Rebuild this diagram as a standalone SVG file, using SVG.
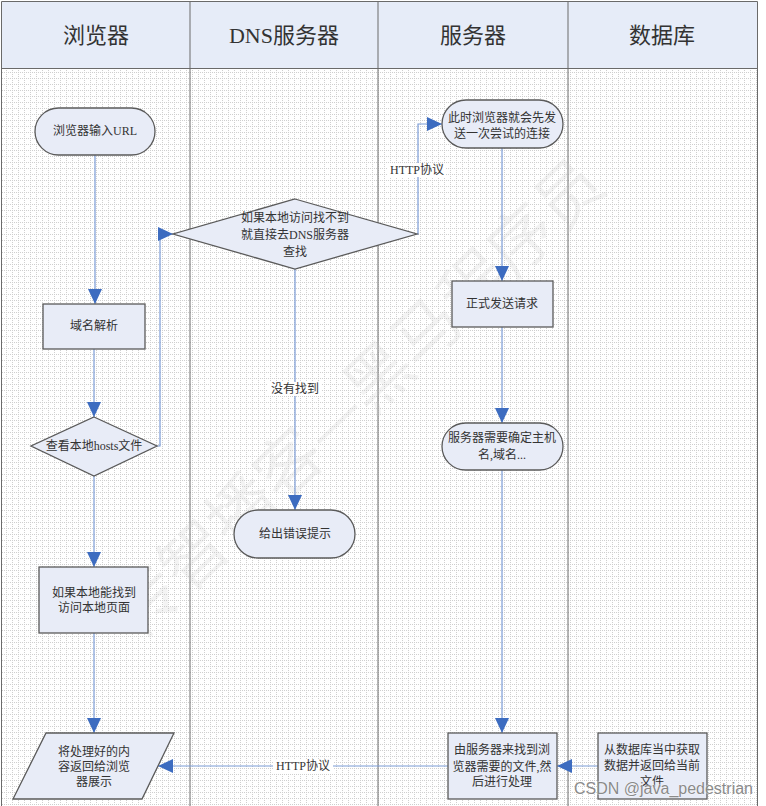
<svg xmlns="http://www.w3.org/2000/svg" width="766" height="806" viewBox="0 0 766 806">
<defs>
<pattern id="grid" width="6" height="6" patternUnits="userSpaceOnUse">
<path d="M0 0.5H6M0.5 0V6" stroke="#cfcfcf" stroke-width="1" stroke-dasharray="1 1" fill="none"/>
</pattern>
<marker id="arr" markerUnits="userSpaceOnUse" markerWidth="16" markerHeight="14" refX="15" refY="7" orient="auto">
<path d="M0 0L15 7L0 14Z" fill="#3d6cc0"/>
</marker>
<style>
.node{fill:#e8ecf7;stroke:#5a5a5a;stroke-width:1.3}
.t{font-family:"Liberation Serif","Noto Sans CJK SC",serif;font-size:12px;fill:#333;text-anchor:middle}
.h{font-family:"Liberation Serif","Noto Sans CJK SC",serif;font-size:22px;fill:#333;text-anchor:middle}
.c{fill:none;stroke:#7b9bd6;stroke-width:1.2}
.lab{font-family:"Liberation Serif","Noto Sans CJK SC",serif;font-size:12px;fill:#333;text-anchor:middle}
.lane{fill:none;stroke:#6a6a6a;stroke-width:1}
</style>
</defs>
<rect x="0" y="0" width="766" height="806" fill="#ffffff"/>
<rect x="2" y="68" width="755" height="738" fill="url(#grid)"/>
<rect x="2" y="2" width="755" height="66" fill="#e6ecf8"/>
<g id="lanes">
<path class="lane" d="M1.5 806V1.5H757.5V806M190 2V806M378 2V806M568 2V806M2 68.5H757"/>
<text class="h" x="96" y="43">浏览器</text>
<text class="h" x="284" y="43">DNS服务器</text>
<text class="h" x="473" y="43">服务器</text>
<text class="h" x="662" y="43">数据库</text>
</g>
<text x="360" y="420" transform="rotate(-44 360 400)" font-family="'Noto Sans CJK SC',sans-serif" font-size="66" fill="#c8c8c8" fill-opacity="0.22" text-anchor="middle">传智播客—黑马程序员</text>
<g id="connectors">
<path class="c" d="M95 155V304" marker-end="url(#arr)"/>
<path class="c" d="M94 349V417" marker-end="url(#arr)"/>
<path class="c" d="M157 446H160V234H173" marker-end="url(#arr)"/>
<path class="c" d="M94 476V567" marker-end="url(#arr)"/>
<path class="c" d="M94 633V733" marker-end="url(#arr)"/>
<path class="c" d="M295 269V510" marker-end="url(#arr)"/>
<path class="c" d="M417 234H418V124H442" marker-end="url(#arr)"/>
<path class="c" d="M502 148V281" marker-end="url(#arr)"/>
<path class="c" d="M502 327V423" marker-end="url(#arr)"/>
<path class="c" d="M502 470V733" marker-end="url(#arr)"/>
<path class="c" d="M598 766H557" marker-end="url(#arr)"/>
<path class="c" d="M448 766H158" marker-end="url(#arr)"/>
<rect x="268" y="382" width="54" height="14" fill="#ffffff"/>
<text class="lab" x="295" y="393">没有找到</text>
<rect x="388" y="163" width="58" height="14" fill="#ffffff"/>
<text class="lab" x="417" y="174">HTTP协议</text>
<rect x="273" y="759" width="60" height="14" fill="#ffffff"/>
<text class="lab" x="303" y="770">HTTP协议</text>
</g>
<g id="n1">
<rect class="node" x="35" y="108" width="120" height="47" rx="23.5"/>
<text class="t" x="95" y="135">浏览器输入URL</text>
</g>
<g id="n2">
<rect class="node" x="43" y="304" width="102" height="45"/>
<text class="t" x="94" y="330">域名解析</text>
</g>
<g id="n3">
<polygon class="node" points="94,417 157,446 94,476 31,446"/>
<text class="t" x="94" y="450">查看本地hosts文件</text>
</g>
<g id="n4">
<rect class="node" x="39" y="567" width="109" height="66"/>
<text class="t" x="94" y="597">如果本地能找到</text>
<text class="t" x="94" y="612">访问本地页面</text>
</g>
<g id="n5">
<polygon class="node" points="46,733 174,733 142,799 13,799"/>
<text class="t" x="94" y="756">将处理好的内</text>
<text class="t" x="94" y="771">容返回给浏览</text>
<text class="t" x="94" y="786">器展示</text>
</g>
<g id="n6">
<polygon class="node" points="295,199 417,234 295,269 173,234"/>
<text class="t" x="295" y="222">如果本地访问找不到</text>
<text class="t" x="295" y="239">就直接去DNS服务器</text>
<text class="t" x="295" y="256">查找</text>
</g>
<g id="n7">
<rect class="node" x="234" y="510" width="121" height="48" rx="24"/>
<text class="t" x="295" y="538">给出错误提示</text>
</g>
<g id="n8">
<rect class="node" x="442" y="100" width="121" height="48" rx="24"/>
<text class="t" x="502" y="122">此时浏览器就会先发</text>
<text class="t" x="502" y="138">送一次尝试的连接</text>
</g>
<g id="n9">
<rect class="node" x="452" y="281" width="101" height="46"/>
<text class="t" x="502" y="308">正式发送请求</text>
</g>
<g id="n10">
<rect class="node" x="442" y="423" width="121" height="47" rx="23.5"/>
<text class="t" x="502" y="442">服务器需要确定主机</text>
<text class="t" x="502" y="459">名,域名...</text>
</g>
<g id="n11">
<rect class="node" x="448" y="733" width="109" height="66"/>
<text class="t" x="502" y="754">由服务器来找到浏</text>
<text class="t" x="502" y="771">览器需要的文件,然</text>
<text class="t" x="502" y="786">后进行处理</text>
</g>
<g id="n12">
<rect class="node" x="598" y="733" width="109" height="66"/>
<text class="t" x="652" y="754">从数据库当中获取</text>
<text class="t" x="652" y="770">数据并返回给当前</text>
<text class="t" x="652" y="786">文件</text>
</g>
<text x="574" y="794" font-family="'Liberation Sans',sans-serif" font-size="16" fill="#8a8a8a" stroke="#ffffff" stroke-width="0.6" paint-order="stroke">CSDN @java_pedestrian</text>
</svg>
